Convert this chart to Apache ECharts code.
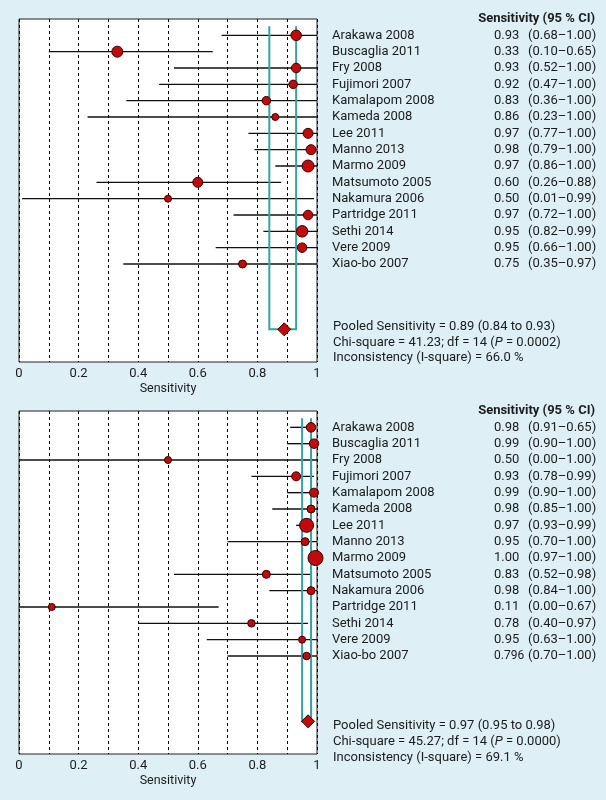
<!DOCTYPE html>
<html>
<head>
<meta charset="utf-8">
<script src="https://cdn.jsdelivr.net/npm/echarts@6/dist/echarts.min.js"></script>
<style>
  html, body { margin: 0; padding: 0; background: #deeff5; }
  #chart { width: 606px; height: 800px; }
</style>
</head>
<body>
<div id="chart"></div>
<script>
// study names (same in both panels)
const studies = ['Arakawa 2008', 'Buscaglia 2011', 'Fry 2008', 'Fujimori 2007', 'Kamalapom 2008',
  'Kameda 2008', 'Lee 2011', 'Manno 2013', 'Marmo 2009', 'Matsumoto 2005', 'Nakamura 2006',
  'Partridge 2011', 'Sethi 2014', 'Vere 2009', 'Xiao-bo 2007'];

// top panel: point estimates, CI ends as drawn, marker sizes (weights)
const estA = [0.93, 0.33, 0.93, 0.92, 0.83, 0.86, 0.97, 0.98, 0.97, 0.60, 0.50, 0.97, 0.95, 0.95, 0.75];
const lowA = [0.68, 0.10, 0.52, 0.47, 0.36, 0.23, 0.77, 0.79, 0.86, 0.26, 0.01, 0.72, 0.82, 0.66, 0.35];
const highA = [1.00, 0.65, 1.00, 1.00, 1.00, 1.00, 1.00, 1.00, 1.00, 0.88, 0.99, 1.00, 1.00, 1.00, 1.00];
const weightA = [10.5, 11, 9.5, 8.5, 8.5, 7, 10, 10, 12, 10, 7, 9.5, 11.5, 9.5, 8];
const estTextA = ['0.93', '0.33', '0.93', '0.92', '0.83', '0.86', '0.97', '0.98', '0.97', '0.60', '0.50', '0.97', '0.95', '0.95', '0.75'];
const ciTextA = ['(0.68–1.00)', '(0.10–0.65)', '(0.52–1.00)', '(0.47–1.00)', '(0.36–1.00)', '(0.23–1.00)',
  '(0.77–1.00)', '(0.79–1.00)', '(0.86–1.00)', '(0.26–0.88)', '(0.01–0.99)', '(0.72–1.00)',
  '(0.82–0.99)', '(0.66–1.00)', '(0.35–0.97)'];
const pooledA = [0.89, 0.84, 0.93];
const statsA = ['Pooled Sensitivity = 0.89 (0.84 to 0.93)', 'Chi-square = 41.23; df = 14 ({i|P} = 0.0002)', 'Inconsistency (I-square) = 66.0 %'];

// bottom panel
const estB = [0.98, 0.99, 0.50, 0.93, 0.99, 0.98, 0.965, 0.96, 0.995, 0.83, 0.98, 0.11, 0.78, 0.95, 0.965];
const lowB = [0.91, 0.90, 0.00, 0.78, 0.90, 0.85, 0.93, 0.70, 0.97, 0.52, 0.84, 0.00, 0.40, 0.63, 0.70];
const highB = [0.99, 1.00, 1.00, 0.99, 1.00, 1.00, 0.99, 1.00, 1.00, 0.98, 1.00, 0.67, 0.97, 1.00, 1.00];
const weightB = [9.5, 9.5, 7, 9, 9, 8, 14, 8, 15, 8, 8, 7, 7.5, 7, 7.5];
const estTextB = ['0.98', '0.99', '0.50', '0.93', '0.99', '0.98', '0.97', '0.95', '1.00', '0.83', '0.98', '0.11', '0.78', '0.95', '0.796'];
const ciTextB = ['(0.91–0.65)', '(0.90–1.00)', '(0.00–1.00)', '(0.78–0.99)', '(0.90–1.00)', '(0.85–1.00)',
  '(0.93–0.99)', '(0.70–1.00)', '(0.97–1.00)', '(0.52–0.98)', '(0.84–1.00)', '(0.00–0.67)',
  '(0.40–0.97)', '(0.63–1.00)', '(0.70–1.00)'];
const pooledB = [0.97, 0.95, 0.98];
const statsB = ['Pooled Sensitivity = 0.97 (0.95 to 0.98)', 'Chi-square = 45.27; df = 14 ({i|P} = 0.0000)', 'Inconsistency (I-square) = 69.1 %'];

const FONT = 'Roboto';
const FS = 13;
const TXT = '#1c1c1c';
const DIAMOND_ROW = 18;
const TEAL_TOP = -0.55;

const chart = echarts.init(document.getElementById('chart'));

function xAxisFor(gi) {
  return {
    type: 'value', gridIndex: gi, min: 0, max: 1, interval: 0.1,
    axisLine: { show: false }, axisTick: { show: false },
    splitLine: { show: true, lineStyle: { color: '#000', type: [3, 3], width: 1 } },
    axisLabel: {
      color: TXT, fontFamily: FONT, fontSize: FS, margin: 5,
      formatter: v => {
        const t = Math.round(v * 10);
        if (t % 2) return '';
        return t === 0 ? '0' : t === 10 ? '1' : (t / 10).toFixed(1);
      }
    },
    name: 'Sensitivity', nameLocation: 'middle', nameGap: 20,
    nameTextStyle: { color: TXT, fontFamily: FONT, fontSize: 12.5 }
  };
}

function yAxisFor(gi, estText, ciText) {
  return {
    type: 'value', gridIndex: gi, inverse: true, min: -1, max: 20, interval: 1,
    position: 'right',
    axisLine: { show: false }, axisTick: { show: false }, splitLine: { show: false },
    axisLabel: {
      margin: 15, showMinLabel: true, showMaxLabel: true,
      formatter: v => {
        if (v === -1) return '{h|Sensitivity (95 % CI)}';
        if (v >= 0 && v < studies.length) {
          const vs = estText[v].length > 4 ? 'w' : 'v';
          return '{n|' + studies[v] + '}{' + vs + '|' + estText[v] + '}{c|' + ciText[v] + '}';
        }
        return '';
      },
      rich: {
        n: { width: 162, color: TXT, fontFamily: FONT, fontSize: FS },
        v: { width: 34, color: TXT, fontFamily: FONT, fontSize: FS },
        w: { width: 34, color: TXT, fontFamily: FONT, fontSize: 12 },
        c: { color: TXT, fontFamily: FONT, fontSize: FS },
        h: { width: 263, align: 'right', color: TXT, fontFamily: FONT, fontSize: FS, fontWeight: 'bold' }
      }
    }
  };
}

function panelSeries(gi, est, low, high, weight, pooled) {
  return [
    {
      type: 'custom', xAxisIndex: gi, yAxisIndex: gi, silent: true, z: 2,
      encode: { x: [0, 1], y: 2 },
      data: low.map((l, i) => [l, high[i], i]),
      renderItem: (params, api) => {
        const a = api.coord([api.value(0), api.value(2)]);
        const b = api.coord([api.value(1), api.value(2)]);
        return { type: 'line', shape: { x1: a[0], y1: a[1], x2: b[0], y2: b[1] },
          style: { stroke: '#111', lineWidth: 1.4 } };
      }
    },
    {
      type: 'custom', xAxisIndex: gi, yAxisIndex: gi, silent: true, z: 3,
      encode: { x: [0, 1], y: 2 },
      data: [[pooled[1], pooled[2], DIAMOND_ROW]],
      renderItem: (params, api) => {
        const lo = api.value(0), hi = api.value(1), r = api.value(2);
        return { type: 'polyline',
          shape: { points: [api.coord([lo, TEAL_TOP]), api.coord([lo, r]), api.coord([hi, r]), api.coord([hi, TEAL_TOP])] },
          style: { stroke: '#2ea5a8', lineWidth: 2, fill: null } };
      }
    },
    {
      type: 'scatter', xAxisIndex: gi, yAxisIndex: gi, silent: true, z: 4,
      data: est.map((e, i) => [e, i, weight[i]]),
      symbolSize: v => v[2],
      itemStyle: { color: '#c20a0a', borderColor: '#3a0000', borderWidth: 1, opacity: 1 }
    },
    {
      type: 'scatter', xAxisIndex: gi, yAxisIndex: gi, silent: true, z: 5,
      data: [[pooled[0], DIAMOND_ROW]],
      symbol: 'diamond', symbolSize: [13, 13],
      itemStyle: { color: '#c20a0a', borderColor: '#3a0000', borderWidth: 1, opacity: 1 }
    }
  ];
}

function statsGraphic(lines, ys) {
  return lines.map((t, k) => ({
    type: 'text', left: 333, top: ys[k] - 8,
    style: {
      text: t, fill: TXT, font: FS + 'px ' + FONT,
      rich: { i: { fontStyle: 'italic', fill: TXT, fontFamily: FONT, fontSize: FS } }
    }
  }));
}

chart.setOption({
  backgroundColor: '#deeff5',
  animation: false,
  grid: [
    { left: 19, top: 19, width: 298, height: 343, show: true, backgroundColor: '#fff', borderColor: '#222', borderWidth: 1 },
    { left: 19, top: 411, width: 298, height: 343, show: true, backgroundColor: '#fff', borderColor: '#222', borderWidth: 1 }
  ],
  xAxis: [xAxisFor(0), xAxisFor(1)],
  yAxis: [yAxisFor(0, estTextA, ciTextA), yAxisFor(1, estTextB, ciTextB)],
  series: [
    ...panelSeries(0, estA, lowA, highA, weightA, pooledA),
    ...panelSeries(1, estB, lowB, highB, weightB, pooledB)
  ],
  graphic: [
    ...statsGraphic(statsA, [328, 344, 359]),
    ...statsGraphic(statsB, [727, 743, 759])
  ]
});
</script>
</body>
</html>
